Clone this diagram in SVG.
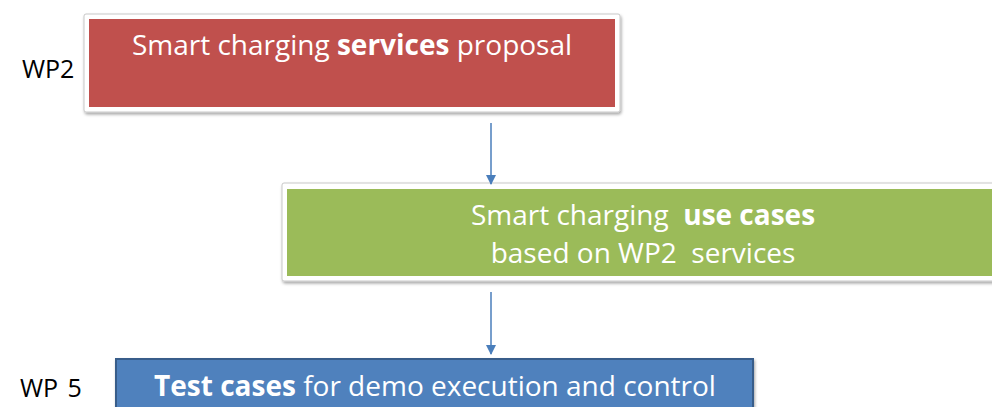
<svg xmlns="http://www.w3.org/2000/svg" width="992" height="407" viewBox="0 0 992 407">
  <defs>
    <filter id="sh" x="-5%" y="-20%" width="110%" height="150%">
      <feDropShadow dx="1" dy="2" stdDeviation="1.5" flood-color="#000" flood-opacity="0.35"/>
    </filter>
    <marker id="ah" markerWidth="10" markerHeight="10" refX="9" refY="5" orient="auto" markerUnits="userSpaceOnUse">
      <path d="M0,0 L10,5 L0,10 Z" fill="#4A7EBB"/>
    </marker>
    <style>
      text { font-family: "Open Sans", "Liberation Sans", Arial, sans-serif; }
      .lbl { font-size: 25px; fill: #000; }
      .bt { font-size: 28px; fill: #fff; text-anchor: middle; }
      .b { font-weight: bold; }
      .frame { fill: #fff; stroke: #c8c8c8; stroke-width: 1; filter: url(#sh); }
      .conn { stroke: #4A7EBB; stroke-width: 1.5; fill: none; marker-end: url(#ah); }
    </style>
  </defs>
  <rect width="992" height="407" fill="#fff"/>

  <g id="wp2-label"><text class="lbl" x="22" y="78">WP2</text></g>
  <g id="wp5-label"><text class="lbl" x="20" y="397" word-spacing="3">WP 5</text></g>

  <g id="services">
    <rect class="frame" x="84" y="14" width="536" height="98" rx="2"/>
    <rect x="89" y="19" width="526" height="88" fill="#C0504D"/>
    <text class="bt" x="352" y="55">Smart charging <tspan class="b">services</tspan> proposal</text>
  </g>

  <g id="usecases">
    <rect class="frame" x="282" y="183" width="730" height="98" rx="2"/>
    <rect x="287" y="189" width="720" height="87" fill="#9BBB59"/>
    <text class="bt" x="643" y="225" xml:space="preserve">Smart charging  <tspan class="b">use cases</tspan></text>
    <text class="bt" x="643" y="263" xml:space="preserve">based on WP2  services</text>
  </g>

  <g id="testcases">
    <rect x="116" y="359" width="637" height="60" fill="#4F81BD" stroke="#385D8A" stroke-width="2" filter="url(#sh)"/>
    <text class="bt" x="435" y="396"><tspan class="b">Test cases</tspan> for demo execution and control</text>
  </g>

  <g id="connectors">
    <line class="conn" x1="491" y1="123" x2="491" y2="184"/>
    <line class="conn" x1="491" y1="292" x2="491" y2="354"/>
  </g>
</svg>
